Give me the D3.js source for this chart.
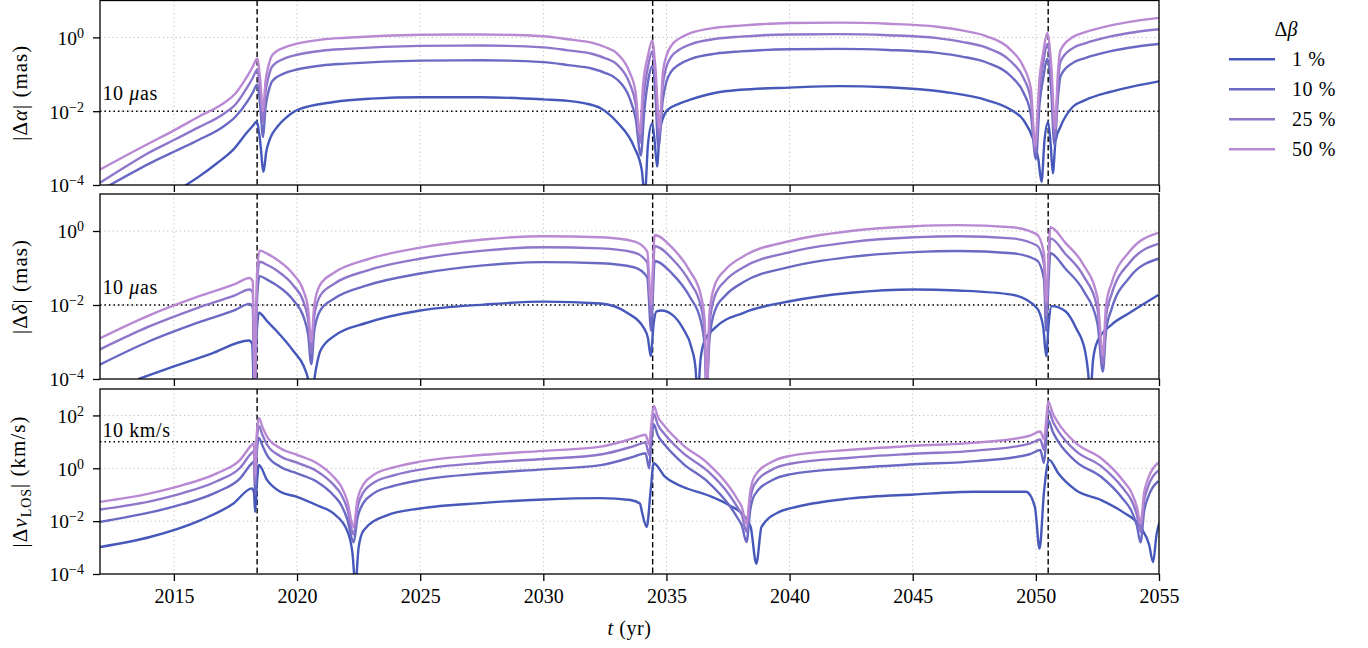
<!DOCTYPE html>
<html>
<head>
<meta charset="utf-8">
<script src="https://cdn.jsdelivr.net/npm/d3@7"></script>
<style>
  body { margin: 0; background: #fff; }
  svg text { font-family: "Liberation Serif", "Times New Roman", Times, serif !important; fill: #000; }
</style>
</head>
<body>
<div id="app"></div>
<script>
// values as log10 of the quantity: [year, log10 value]
const years = [2015, 2020, 2025, 2030, 2035, 2040, 2045, 2050, 2055]
const events = [2018.38, 2034.44, 2050.5]
const seriesNames = ["1 %", "10 %", "25 %", "50 %"]
const colors = ["#4659bb", "#6a6ac4", "#8e76cb", "#ba89d3"]

const alpha1 = [[2015.0,-4.25],[2015.5,-4.0],[2016.0,-3.78],[2016.75,-3.41],[2017.4,-3.05],[2018.0,-2.55],[2018.2,-2.4],[2018.37,-2.28],[2018.5,-2.8],[2018.64,-3.64],[2018.75,-3.1],[2018.9,-2.75],[2019.2,-2.42],[2019.6,-2.15],[2020.0,-1.97],[2021.5,-1.75],[2023.0,-1.66],[2025.0,-1.62],[2027.5,-1.62],[2030.0,-1.68],[2031.0,-1.72],[2031.65,-1.78],[2032.33,-1.92],[2033.0,-2.3],[2033.68,-2.96],[2034.0,-3.6],[2034.12,-4.3],[2034.25,-2.9],[2034.42,-2.33],[2034.52,-2.8],[2034.62,-3.5],[2034.72,-2.6],[2034.85,-2.2],[2035.03,-1.97],[2035.5,-1.8],[2036.0,-1.68],[2037.0,-1.5],[2038.0,-1.42],[2040.0,-1.36],[2042.0,-1.32],[2044.0,-1.35],[2046.3,-1.48],[2048.0,-1.7],[2049.0,-1.97],[2049.5,-2.24],[2049.9,-2.78],[2050.1,-3.3],[2050.23,-3.91],[2050.35,-2.8],[2050.5,-2.29],[2050.6,-2.9],[2050.69,-3.68],[2050.8,-2.8],[2051.0,-2.42],[2051.5,-1.88],[2052.0,-1.7],[2053.0,-1.48],[2054.0,-1.32],[2055.0,-1.19]]
const alpha10 = [[2012.0,-4.15],[2013.0,-3.78],[2014.0,-3.42],[2015.0,-3.1],[2016.0,-2.78],[2017.0,-2.42],[2017.5,-2.15],[2018.0,-1.72],[2018.2,-1.5],[2018.38,-1.28],[2018.5,-1.8],[2018.62,-2.7],[2018.72,-1.9],[2018.85,-1.45],[2019.0,-1.18],[2019.5,-0.97],[2020.0,-0.87],[2021.0,-0.76],[2022.0,-0.71],[2025.0,-0.63],[2027.5,-0.62],[2030.0,-0.67],[2031.0,-0.75],[2032.0,-0.85],[2032.5,-0.96],[2033.0,-1.14],[2033.5,-1.64],[2033.75,-2.2],[2033.96,-3.2],[2034.1,-2.0],[2034.25,-1.2],[2034.42,-0.78],[2034.55,-1.5],[2034.67,-3.0],[2034.85,-1.7],[2035.0,-1.2],[2035.2,-0.92],[2035.5,-0.74],[2036.0,-0.58],[2037.0,-0.44],[2038.0,-0.38],[2040.0,-0.32],[2042.0,-0.31],[2044.0,-0.34],[2046.0,-0.42],[2047.0,-0.52],[2048.0,-0.68],[2049.0,-1.06],[2049.5,-1.5],[2049.8,-2.1],[2050.0,-3.3],[2050.15,-1.8],[2050.3,-1.1],[2050.46,-0.58],[2050.62,-1.4],[2050.75,-2.9],[2050.9,-1.6],[2051.0,-1.05],[2051.5,-0.69],[2052.0,-0.56],[2053.0,-0.38],[2054.0,-0.26],[2055.0,-0.18]]
const alpha25 = [[2012.0,-3.94],[2013.0,-3.52],[2014.0,-3.12],[2015.0,-2.78],[2016.0,-2.44],[2017.0,-2.08],[2017.5,-1.82],[2018.0,-1.33],[2018.2,-1.1],[2018.38,-0.88],[2018.5,-1.4],[2018.62,-2.3],[2018.72,-1.5],[2018.85,-1.05],[2019.0,-0.78],[2019.5,-0.57],[2020.0,-0.47],[2021.0,-0.36],[2022.0,-0.31],[2025.0,-0.23],[2027.5,-0.22],[2030.0,-0.27],[2031.0,-0.35],[2032.0,-0.45],[2032.5,-0.56],[2033.0,-0.74],[2033.5,-1.24],[2033.75,-1.8],[2033.94,-2.85],[2034.07,-1.6],[2034.25,-0.8],[2034.42,-0.38],[2034.55,-1.1],[2034.7,-2.7],[2034.85,-1.3],[2035.0,-0.8],[2035.2,-0.52],[2035.5,-0.34],[2036.0,-0.18],[2037.0,-0.04],[2038.0,0.02],[2040.0,0.08],[2042.0,0.09],[2044.0,0.06],[2046.0,-0.02],[2047.0,-0.12],[2048.0,-0.28],[2049.0,-0.66],[2049.5,-1.1],[2049.8,-1.7],[2049.98,-3.1],[2050.15,-1.4],[2050.3,-0.7],[2050.46,-0.18],[2050.62,-1.0],[2050.77,-2.7],[2050.9,-1.2],[2051.0,-0.65],[2051.5,-0.29],[2052.0,-0.16],[2053.0,0.02],[2054.0,0.14],[2055.0,0.22]]
const alpha50 = [[2012.0,-3.58],[2013.0,-3.22],[2014.0,-2.87],[2015.0,-2.52],[2016.0,-2.15],[2017.0,-1.79],[2017.5,-1.52],[2018.0,-1.03],[2018.2,-0.8],[2018.38,-0.58],[2018.5,-1.1],[2018.62,-2.0],[2018.72,-1.2],[2018.85,-0.75],[2019.0,-0.48],[2019.5,-0.27],[2020.0,-0.17],[2021.0,-0.06],[2022.0,-0.01],[2025.0,0.07],[2027.5,0.08],[2030.0,0.03],[2031.0,-0.05],[2032.0,-0.15],[2032.5,-0.26],[2033.0,-0.44],[2033.5,-0.94],[2033.75,-1.5],[2033.92,-2.6],[2034.05,-1.3],[2034.25,-0.5],[2034.42,-0.08],[2034.55,-0.8],[2034.72,-2.47],[2034.85,-1.0],[2035.0,-0.5],[2035.2,-0.22],[2035.5,-0.04],[2036.0,0.12],[2037.0,0.26],[2038.0,0.32],[2040.0,0.39],[2042.0,0.4],[2044.0,0.37],[2046.0,0.29],[2047.0,0.19],[2048.0,0.03],[2049.0,-0.35],[2049.5,-0.8],[2049.8,-1.4],[2049.97,-2.96],[2050.15,-1.1],[2050.3,-0.4],[2050.46,0.12],[2050.62,-0.7],[2050.78,-2.47],[2050.9,-0.9],[2051.0,-0.35],[2051.5,0.01],[2052.0,0.14],[2053.0,0.32],[2054.0,0.44],[2055.0,0.53]]

const delta1 = [[2013.56,-4.0],[2015.0,-3.66],[2016.5,-3.32],[2018.05,-2.96],[2018.18,-3.05],[2018.26,-4.5],[2018.36,-2.8],[2018.45,-2.21],[2018.8,-2.45],[2019.18,-2.71],[2019.86,-3.25],[2020.27,-3.65],[2020.45,-4.0],[2020.58,-4.5],[2020.75,-3.8],[2020.94,-3.25],[2021.5,-2.84],[2022.84,-2.48],[2025.0,-2.15],[2027.57,-1.99],[2030.0,-1.91],[2032.33,-1.96],[2033.4,-2.21],[2034.08,-2.62],[2034.25,-2.9],[2034.36,-3.38],[2034.48,-2.5],[2034.6,-2.17],[2034.8,-2.15],[2035.23,-2.26],[2035.66,-2.62],[2036.02,-3.16],[2036.18,-3.7],[2036.27,-4.5],[2036.38,-3.5],[2036.54,-2.98],[2036.97,-2.62],[2038.13,-2.21],[2040.02,-1.9],[2042.49,-1.67],[2045.05,-1.58],[2046.84,-1.61],[2049.02,-1.72],[2050.04,-2.08],[2050.3,-2.6],[2050.42,-3.38],[2050.52,-2.5],[2050.64,-2.03],[2051.2,-2.17],[2051.63,-2.62],[2052.0,-3.25],[2052.12,-3.8],[2052.21,-4.5],[2052.32,-3.5],[2052.5,-2.98],[2053.08,-2.53],[2053.81,-2.21],[2054.97,-1.73]]
const delta10 = [[2012.0,-3.61],[2014.0,-2.98],[2016.0,-2.47],[2017.5,-2.13],[2018.07,-1.97],[2018.2,-2.06],[2018.28,-4.4],[2018.38,-1.8],[2018.48,-1.22],[2018.8,-1.32],[2019.18,-1.47],[2019.86,-1.88],[2020.27,-2.33],[2020.45,-2.8],[2020.58,-3.6],[2020.7,-2.7],[2020.94,-2.15],[2021.5,-1.83],[2022.84,-1.47],[2025.0,-1.15],[2027.57,-0.93],[2030.0,-0.84],[2032.33,-0.87],[2033.68,-0.98],[2034.22,-1.25],[2034.38,-2.7],[2034.45,-1.7],[2034.52,-0.81],[2035.23,-1.15],[2035.96,-1.79],[2036.39,-2.42],[2036.55,-3.1],[2036.63,-4.3],[2036.75,-2.9],[2036.97,-2.15],[2037.4,-1.74],[2038.13,-1.38],[2040.02,-0.97],[2042.49,-0.7],[2045.05,-0.57],[2046.84,-0.54],[2049.02,-0.6],[2050.04,-0.79],[2050.33,-1.3],[2050.42,-2.7],[2050.5,-1.6],[2050.59,-0.6],[2051.2,-1.02],[2051.92,-1.6],[2052.5,-2.5],[2052.72,-3.8],[2052.85,-2.7],[2053.08,-2.1],[2053.81,-1.25],[2054.97,-0.75]]
const delta25 = [[2012.0,-3.2],[2014.0,-2.58],[2016.0,-2.07],[2017.5,-1.73],[2018.07,-1.58],[2018.2,-1.66],[2018.28,-4.3],[2018.38,-1.4],[2018.48,-0.83],[2018.8,-0.92],[2019.18,-1.07],[2019.86,-1.48],[2020.27,-1.93],[2020.45,-2.4],[2020.58,-3.3],[2020.7,-2.3],[2020.94,-1.75],[2021.5,-1.43],[2022.84,-1.07],[2025.0,-0.75],[2027.57,-0.53],[2030.0,-0.44],[2032.33,-0.47],[2033.68,-0.58],[2034.22,-0.85],[2034.38,-2.3],[2034.45,-1.3],[2034.52,-0.41],[2035.23,-0.75],[2035.96,-1.39],[2036.39,-2.02],[2036.55,-2.7],[2036.63,-4.3],[2036.75,-2.5],[2036.97,-1.75],[2037.4,-1.34],[2038.13,-0.98],[2040.02,-0.57],[2042.49,-0.3],[2045.05,-0.17],[2046.84,-0.14],[2049.02,-0.2],[2050.04,-0.39],[2050.33,-0.9],[2050.42,-2.3],[2050.5,-1.2],[2050.59,-0.2],[2051.2,-0.62],[2051.92,-1.2],[2052.5,-2.1],[2052.72,-3.6],[2052.85,-2.3],[2053.08,-1.7],[2053.81,-0.85],[2054.97,-0.35]]
const delta50 = [[2012.0,-2.9],[2014.0,-2.28],[2016.0,-1.77],[2017.5,-1.43],[2018.07,-1.27],[2018.2,-1.35],[2018.28,-4.3],[2018.38,-1.1],[2018.48,-0.53],[2018.8,-0.62],[2019.18,-0.77],[2019.86,-1.18],[2020.27,-1.63],[2020.45,-2.1],[2020.58,-3.0],[2020.7,-2.0],[2020.94,-1.45],[2021.5,-1.13],[2022.84,-0.77],[2025.0,-0.45],[2027.57,-0.23],[2030.0,-0.14],[2032.33,-0.17],[2033.68,-0.28],[2034.22,-0.55],[2034.38,-2.0],[2034.45,-1.0],[2034.52,-0.11],[2035.23,-0.45],[2035.96,-1.09],[2036.39,-1.72],[2036.55,-2.4],[2036.63,-4.3],[2036.75,-2.2],[2036.97,-1.45],[2037.4,-1.04],[2038.13,-0.68],[2040.02,-0.27],[2042.49,0.0],[2045.05,0.13],[2046.84,0.16],[2049.02,0.1],[2050.04,-0.09],[2050.33,-0.6],[2050.42,-1.94],[2050.5,-0.9],[2050.59,0.1],[2051.2,-0.32],[2051.92,-0.9],[2052.5,-1.8],[2052.72,-3.38],[2052.85,-2.0],[2053.08,-1.4],[2053.81,-0.55],[2054.97,-0.05]]

const vlos1 = [[2012.0,-2.98],[2014.03,-2.6],[2016.07,-1.97],[2017.42,-1.33],[2018.17,-0.76],[2018.25,-0.9],[2018.3,-1.65],[2018.37,-0.6],[2018.45,0.13],[2018.78,-0.44],[2019.32,-0.89],[2020.0,-1.08],[2020.81,-1.4],[2021.48,-1.71],[2022.03,-2.35],[2022.25,-3.2],[2022.37,-4.4],[2022.5,-3.0],[2022.7,-2.35],[2023.65,-1.78],[2025.0,-1.52],[2027.58,-1.31],[2030.02,-1.18],[2032.33,-1.13],[2033.54,-1.2],[2033.92,-1.33],[2034.02,-1.71],[2034.2,-2.22],[2034.36,-0.83],[2034.48,0.19],[2034.94,-0.32],[2035.66,-0.7],[2036.68,-1.02],[2037.55,-1.4],[2038.13,-1.78],[2038.42,-2.22],[2038.65,-3.61],[2038.86,-2.22],[2039.58,-1.65],[2040.02,-1.52],[2042.49,-1.14],[2045.05,-0.99],[2047.57,-0.89],[2049.6,-0.89],[2049.96,-1.46],[2050.15,-3.04],[2050.33,-0.9],[2050.54,0.32],[2050.91,-0.19],[2051.63,-0.83],[2052.65,-1.2],[2053.52,-1.65],[2054.25,-2.22],[2054.6,-2.9],[2054.76,-3.55],[2054.9,-2.5],[2055.05,-1.97]]
const vlos10 = [[2012.0,-2.03],[2014.03,-1.67],[2015.39,-1.35],[2016.74,-0.9],[2017.69,-0.38],[2018.17,0.19],[2018.25,0.25],[2018.3,-1.0],[2018.36,0.5],[2018.45,1.15],[2018.6,0.85],[2018.78,0.5],[2019.32,0.06],[2020.0,-0.19],[2020.81,-0.51],[2021.48,-1.02],[2021.8,-1.4],[2022.03,-1.9],[2022.3,-2.8],[2022.45,-1.9],[2022.57,-1.53],[2023.11,-0.95],[2024.0,-0.65],[2025.0,-0.45],[2027.58,-0.19],[2030.02,-0.04],[2032.33,0.12],[2033.68,0.44],[2034.15,0.57],[2034.3,0.0],[2034.38,0.9],[2034.48,1.67],[2034.65,1.25],[2034.94,0.88],[2035.66,0.19],[2036.68,-0.51],[2037.55,-1.4],[2037.9,-1.9],[2038.06,-2.16],[2038.25,-2.79],[2038.4,-1.6],[2038.57,-1.02],[2039.29,-0.45],[2040.02,-0.23],[2042.49,0.0],[2045.05,0.15],[2047.57,0.27],[2049.75,0.53],[2050.18,0.69],[2050.33,0.2],[2050.42,1.1],[2050.5,1.83],[2050.7,1.35],[2050.91,1.01],[2051.63,0.25],[2052.65,-0.32],[2053.52,-1.14],[2053.9,-1.65],[2054.1,-2.16],[2054.25,-2.8],[2054.4,-1.6],[2054.54,-1.14],[2054.97,-0.49]]
const vlos25 = [[2012.0,-1.56],[2014.03,-1.25],[2015.39,-0.93],[2016.74,-0.49],[2017.69,0.02],[2018.17,0.59],[2018.25,0.65],[2018.3,-0.6],[2018.36,0.9],[2018.45,1.6],[2018.6,1.25],[2018.78,0.9],[2019.32,0.46],[2020.0,0.21],[2020.81,-0.11],[2021.48,-0.62],[2021.8,-1.0],[2022.03,-1.5],[2022.3,-2.5],[2022.45,-1.5],[2022.57,-1.13],[2023.11,-0.55],[2024.0,-0.25],[2025.0,-0.05],[2027.58,0.21],[2030.02,0.35],[2032.33,0.52],[2033.68,0.84],[2034.15,0.97],[2034.3,0.5],[2034.38,1.3],[2034.48,2.07],[2034.65,1.65],[2034.94,1.28],[2035.66,0.59],[2036.68,-0.11],[2037.55,-1.0],[2037.9,-1.5],[2038.06,-1.76],[2038.25,-2.4],[2038.4,-1.2],[2038.57,-0.62],[2039.29,-0.05],[2040.02,0.17],[2042.49,0.4],[2045.05,0.55],[2047.57,0.67],[2049.75,0.93],[2050.18,1.09],[2050.33,0.7],[2050.42,1.5],[2050.5,2.23],[2050.7,1.75],[2050.91,1.41],[2051.63,0.65],[2052.65,0.08],[2053.52,-0.74],[2053.9,-1.25],[2054.1,-1.76],[2054.25,-2.4],[2054.4,-1.2],[2054.54,-0.74],[2054.97,-0.09]]
const vlos50 = [[2012.0,-1.27],[2014.03,-0.95],[2015.39,-0.63],[2016.74,-0.19],[2017.69,0.32],[2018.17,0.89],[2018.25,0.95],[2018.3,-0.3],[2018.36,1.2],[2018.45,1.9],[2018.6,1.55],[2018.78,1.2],[2019.32,0.76],[2020.0,0.51],[2020.81,0.19],[2021.48,-0.32],[2021.8,-0.7],[2022.03,-1.2],[2022.3,-2.22],[2022.45,-1.2],[2022.57,-0.83],[2023.11,-0.25],[2024.0,0.05],[2025.0,0.25],[2027.58,0.51],[2030.02,0.66],[2032.33,0.82],[2033.68,1.14],[2034.15,1.27],[2034.3,0.9],[2034.38,1.6],[2034.48,2.37],[2034.65,1.95],[2034.94,1.58],[2035.66,0.89],[2036.68,0.19],[2037.55,-0.7],[2037.9,-1.2],[2038.06,-1.46],[2038.25,-2.09],[2038.4,-0.9],[2038.57,-0.32],[2039.29,0.25],[2040.02,0.47],[2042.49,0.7],[2045.05,0.85],[2047.57,0.97],[2049.75,1.23],[2050.18,1.39],[2050.33,1.1],[2050.42,1.8],[2050.5,2.53],[2050.7,2.05],[2050.91,1.71],[2051.63,0.95],[2052.65,0.38],[2053.52,-0.44],[2053.9,-0.95],[2054.1,-1.46],[2054.25,-2.09],[2054.4,-0.9],[2054.54,-0.44],[2054.97,0.21]]

const panels = [
    {series: [alpha1, alpha10, alpha25, alpha50], domain: [1e-4, 1e1], ticks: [-4, -2, 0], ref: 1e-2, note: "as", noteAt: 2e-2, label: "alpha"},
    {series: [delta1, delta10, delta25, delta50], domain: [1e-4, 1e1], ticks: [-4, -2, 0], ref: 1e-2, note: "as", noteAt: 2e-2, label: "delta"},
    {series: [vlos1, vlos10, vlos25, vlos50], domain: [1e-4, 1e3], ticks: [-4, -2, 0, 2], ref: 10, note: "km", noteAt: 15, label: "vlos"}
]

var w = 1368
var h = 648
const left = 100, right = 1159
const tops = [0.5, 194, 389]
const serif = "'Liberation Serif', 'Times New Roman', Times, serif"

const svg = d3.select("#app")
    .append("svg")
    .attr("width", w)
    .attr("height", h)
    .attr("font-family", serif)
    .style("background-color", "white")

const x = d3.scaleLinear()
    .domain([2012, 2055])
    .range([left, right])

panels.forEach((p, i) => {
    const top = tops[i]
    const bottom = i == 0 ? 185 : top + 185
    const y = d3.scaleLog()
        .domain(p.domain)
        .range([bottom, top])

    const g = svg.append("g")

    g.append("clipPath")
        .attr("id", "clip" + i)
        .append("rect")
        .attr("x", left)
        .attr("y", top)
        .attr("width", right - left)
        .attr("height", bottom - top)

    // grid
    g.selectAll(".vgrid")
        .data(years)
        .enter()
        .append("line")
        .attr("x1", d => x(d)).attr("x2", d => x(d))
        .attr("y1", top).attr("y2", bottom)
        .attr("stroke", "#bdbdbd")
        .attr("stroke-width", 1)
        .attr("stroke-dasharray", "1.2,3")

    g.selectAll(".hgrid")
        .data(p.ticks.filter(t => t > -4))
        .enter()
        .append("line")
        .attr("x1", left).attr("x2", right)
        .attr("y1", d => y(Math.pow(10, d))).attr("y2", d => y(Math.pow(10, d)))
        .attr("stroke", "#bdbdbd")
        .attr("stroke-width", 1)
        .attr("stroke-dasharray", "1.2,3")

    // reference threshold
    g.append("line")
        .attr("x1", left).attr("x2", right)
        .attr("y1", y(p.ref)).attr("y2", y(p.ref))
        .attr("stroke", "black")
        .attr("stroke-width", 1.5)
        .attr("stroke-dasharray", "1.5,3")

    g.selectAll(".event")
        .data(events)
        .enter()
        .append("line")
        .attr("x1", d => x(d)).attr("x2", d => x(d))
        .attr("y1", top).attr("y2", bottom)
        .attr("stroke", "black")
        .attr("stroke-width", 1.4)
        .attr("stroke-dasharray", "5.5,3")

    const line = d3.line()
        .x(d => x(d[0]))
        .y(d => y(Math.pow(10, d[1])))
        .curve(d3.curveMonotoneX)

    g.append("g")
        .attr("clip-path", "url(#clip" + i + ")")
        .selectAll("path")
        .data(p.series)
        .enter()
        .append("path")
        .attr("d", line)
        .attr("fill", "none")
        .attr("stroke", (d, k) => colors[k])
        .attr("stroke-width", 2.4)
        .attr("stroke-linejoin", "round")

    // axes
    const yAxis = d3.axisLeft(y)
        .tickValues(p.ticks.map(t => Math.pow(10, t)))
        .tickSize(7)
        .tickFormat("")
    const ya = g.append("g")
        .attr("transform", "translate(" + left + ",0)")
        .call(yAxis)
        .attr("font-family", serif)
    ya.select(".domain").remove()
    ya.selectAll(".tick line").attr("stroke-width", 1.3)
    ya.selectAll(".tick").each(function(d) {
        const e = Math.round(Math.log10(d))
        const t = d3.select(this).append("text")
            .attr("x", -16)
            .attr("y", 0)
            .attr("dy", "0.35em")
            .attr("text-anchor", "end")
            .attr("fill", "black")
            .style("font-size", "19.5px")
        t.append("tspan").text("10")
        t.append("tspan")
            .attr("dy", "-0.5em")
            .style("font-size", "14px")
            .text(String(e).replace("-", "\u2212"))
    })

    const xAxis = d3.axisBottom(x)
        .tickValues(years)
        .tickSize(7)
        .tickPadding(8)
        .tickFormat(i == 2 ? d3.format("d") : "")
    const xa = g.append("g")
        .attr("transform", "translate(0," + bottom + ")")
        .call(xAxis)
        .attr("font-family", serif)
    xa.select(".domain").remove()
    xa.selectAll(".tick line").attr("stroke-width", 1.3)
    xa.selectAll(".tick text")
        .style("font-size", "20px")

    // frame
    g.append("rect")
        .attr("x", left)
        .attr("y", top)
        .attr("width", right - left)
        .attr("height", bottom - top)
        .attr("fill", "none")
        .attr("stroke", "black")
        .attr("stroke-width", 1.3)

    // threshold note
    const note = g.append("text")
        .attr("x", x(2012.1))
        .attr("y", y(p.noteAt))
        .style("font-size", "20px")
        .style("letter-spacing", "0.6px")
    if (p.note == "as") {
        note.append("tspan").text("10 ")
        note.append("tspan").style("font-style", "italic").text("\u03bc")
        note.append("tspan").text("as")
    } else {
        note.text("10 km/s")
    }

    // y label
    const yl = g.append("text")
        .attr("transform", "translate(27," + (top + bottom) / 2 + ") rotate(-90)")
        .attr("text-anchor", "middle")
        .style("font-size", "21px")
        .style("letter-spacing", "1px")
    yl.append("tspan").text("|\u0394")
    if (p.label == "alpha") {
        yl.append("tspan").style("font-style", "italic").text("\u03b1")
        yl.append("tspan").text("| (mas)")
    } else if (p.label == "delta") {
        yl.append("tspan").style("font-style", "italic").text("\u03b4")
        yl.append("tspan").text("| (mas)")
    } else {
        yl.append("tspan").style("font-style", "italic").text("v")
        yl.append("tspan").attr("dy", "0.3em").style("font-size", "14px").text("LOS")
        yl.append("tspan").attr("dy", "-0.3em").text("| (km/s)")
    }
})

// x label
const xl = svg.append("text")
    .attr("x", (left + right) / 2)
    .attr("y", 635)
    .attr("text-anchor", "middle")
    .style("font-size", "20px")
    .style("letter-spacing", "0.6px")
xl.append("tspan").style("font-style", "italic").text("t")
xl.append("tspan").text(" (yr)")

// legend
const legend = svg.append("g").attr("id", "legend")
const lt = legend.append("text")
    .attr("x", 1286)
    .attr("y", 36)
    .attr("text-anchor", "middle")
    .style("font-size", "20px")
lt.append("tspan").text("\u0394")
lt.append("tspan").style("font-style", "italic").text("\u03b2")

const legY = d3.scaleBand()
    .domain(seriesNames)
    .range([44.3, 164.3])

seriesNames.forEach((s, k) => {
    const yy = legY(s) + legY.bandwidth() / 2
    legend.append("line")
        .attr("x1", 1229).attr("x2", 1275)
        .attr("y1", yy).attr("y2", yy)
        .attr("stroke", colors[k])
        .attr("stroke-width", 2.5)
    legend.append("text")
        .attr("x", 1292)
        .attr("y", yy + 6.5)
        .style("font-size", "20px")
        .style("letter-spacing", "0.6px")
        .text(s)
})
</script>
</body>
</html>
